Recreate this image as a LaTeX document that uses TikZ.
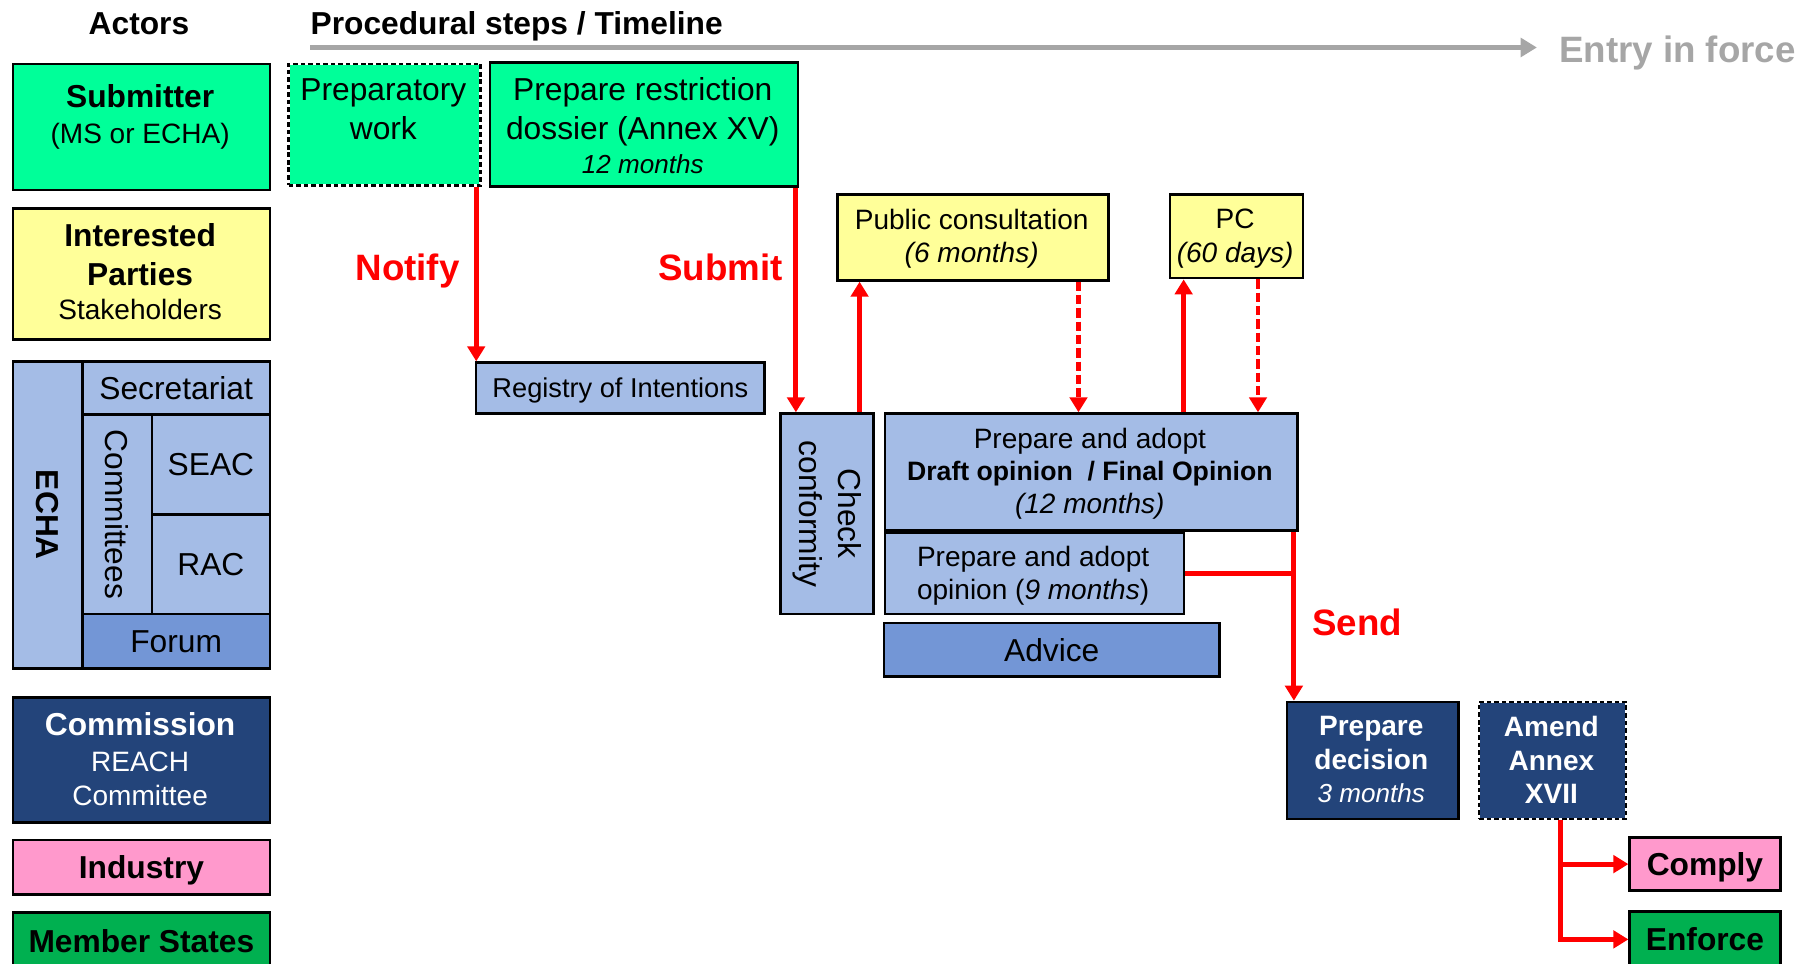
\documentclass[tikz,border=0pt]{standalone}
\usepackage{fontspec}
\setmainfont{Liberation Sans}
\usetikzlibrary{arrows.meta,calc}
\definecolor{sgreen}{HTML}{00FF99}
\definecolor{lyellow}{HTML}{FFFF99}
\definecolor{lblue}{HTML}{A4BCE6}
\definecolor{mblue}{HTML}{7396D6}
\definecolor{navy}{HTML}{23447A}
\definecolor{pinkc}{HTML}{FF99CC}
\definecolor{msgreen}{HTML}{00B050}
\definecolor{tlgray}{HTML}{A6A6A6}
\newcommand\szL{\fontsize{27.4}{33}\selectfont}
\newcommand\szM{\fontsize{24.2}{29}\selectfont}
\newcommand\szS{\fontsize{22.5}{27}\selectfont}
\newcommand\szX{\fontsize{31.7}{38}\selectfont}
\begin{document}
\begin{tikzpicture}[x=1pt,y=-1pt,
 bx/.style={draw=black, line width=2.2pt, inner sep=0pt, anchor=north west, align=center},
 dbx/.style={bx, draw=white, postaction={draw=black, line width=2.2pt, dash pattern=on 4pt off 2.5pt}},
 one/.style={text depth=0pt},
 txt/.style={inner sep=0pt, align=center},
 ra/.style={draw=red, line width=4.2pt, -{Triangle[length=13pt,width=15pt]}},
 rd/.style={ra, dash pattern=on 8pt off 3.5pt},
 rl/.style={draw=red, line width=4.2pt},
 lbl/.style={text=red, font=\szX\bfseries, inner sep=0pt},
]
\useasboundingbox (0,0) rectangle (1568,832);

% titles and timeline
\node[inner sep=0pt, anchor=base, font=\szL\bfseries] (tActors) at (120,29.8) {Actors};
\node[inner sep=0pt, anchor=base west, font=\szL\bfseries] (tSteps) at (268,29.8) {Procedural steps / Timeline};
\coordinate (tl0) at (268,41);
\node[inner sep=0pt, anchor=base west, font=\szX\bfseries, text=tlgray] (entry) at (1346,54.3) {Entry in force};
\draw[tlgray, line width=5pt, -{Triangle[length=14pt,width=16pt]}, shorten >=19pt] (tl0) -- (tl0 -| entry.west);

% actors column
\node[bx, fill=sgreen, minimum width=222pt, minimum height=109pt] (sub) at (10,54) {};
\node[txt, anchor=north, font=\szL] (subT) at (121,73.1) {\textbf{Submitter}\\[-2pt]{\szM (MS or ECHA)}};

\node[bx, fill=lyellow, minimum width=222pt, minimum height=113pt] (ip) at (10,179) {};
\node[txt, anchor=north, font=\szL] (ipT) at (121,193.1) {\textbf{Interested}\\\textbf{Parties}\\[-3pt]{\szM Stakeholders}};

\node[bx, fill=lblue, minimum width=60pt, minimum height=265pt] (echa) at (10,311) {};
\node[txt, rotate=-90, font=\szL\bfseries] (echaT) at (echa.center) {ECHA};
\node[bx, one, fill=lblue, minimum width=162pt, minimum height=46pt, font=\szL] (secr) at (70,311) {Secretariat};
\node[bx, fill=lblue, minimum width=60pt, minimum height=172pt] (comm) at (70,357) {};
\node[txt, rotate=-90, font=\szL] (commT) at (comm.center) {Committees};
\node[bx, one, fill=lblue, minimum width=102pt, minimum height=86pt, font=\szL] (seac) at (130,357) {SEAC};
\node[bx, one, fill=lblue, minimum width=102pt, minimum height=86pt, font=\szL] (rac) at (130,443) {RAC};
\node[bx, one, fill=mblue, minimum width=162pt, minimum height=47pt, font=\szL] (forum) at (70,529) {Forum};

\node[bx, fill=navy, minimum width=222pt, minimum height=108pt] (cmsn) at (10,601) {};
\node[txt, anchor=north, font=\szM, text=white] (cmsnT) at (121,615.1) {{\szL\bfseries Commission}\\[2pt]REACH\\Committee};

\node[bx, one, fill=pinkc, minimum width=222pt, minimum height=47pt, font=\szL\bfseries] (ind) at (10,724) {Industry};
\node[bx, one, fill=msgreen, minimum width=222pt, minimum height=48pt, font=\szL\bfseries] (ms) at (10,787) {Member States};

% procedure boxes
\node[dbx, fill=sgreen, minimum width=166pt, minimum height=105pt] (prep) at (248,54) {};
\node[txt, anchor=north, font=\szL] (prepT) at (331,68.1) {Preparatory\\work};

\node[bx, fill=sgreen, minimum width=266pt, minimum height=107pt] (dos) at (422,53) {};
\node[txt, anchor=north, font=\szL] (dosT) at (555,67.1) {Prepare restriction\\dossier (Annex XV)\\[-3pt]{\szS\itshape 12 months}};

\node[bx, one, fill=lblue, minimum width=249pt, minimum height=44pt, font=\fontsize{23.5}{28}\selectfont] (reg) at (410,312) {Registry of Intentions};

\node[bx, fill=lblue, minimum width=80pt, minimum height=173pt] (chk) at (673,356) {};
\node[txt, rotate=-90, font=\fontsize{27.4}{34}\selectfont] (chkT) at (chk.center) {Check\\conformity};

\node[bx, fill=lyellow, minimum width=234pt, minimum height=74pt] (pubc) at (722,167) {};
\node[txt, anchor=north, font=\szM] (pubcT) at (839,180.3) {Public consultation\\\textit{(6 months)}};

\node[bx, fill=lyellow, minimum width=115pt, minimum height=72pt] (pc) at (1009,167) {};
\node[txt, anchor=north, font=\szM] (pcT) at (1066.5,180.3) {PC\\\textit{(60 days)}};

\node[bx, fill=lblue, minimum width=356pt, minimum height=101pt] (draft) at (763,356) {};
\node[txt, anchor=north, font=\fontsize{24.2}{28}\selectfont] (draftT) at (941,369.3) {Prepare and adopt\\{\fontsize{23}{28}\selectfont\bfseries Draft opinion\ \ / Final Opinion}\\\textit{(12 months)}};

\node[bx, fill=lblue, minimum width=258pt, minimum height=70pt] (op9) at (763,459) {};
\node[txt, anchor=north, font=\szM] (op9T) at (892,471.3) {Prepare and adopt\\opinion (\textit{9 months})};

\node[bx, one, fill=mblue, minimum width=290pt, minimum height=46pt, font=\szL] (adv) at (762,537) {Advice};

\node[bx, fill=navy, minimum width=148pt, minimum height=101pt] (dec) at (1110,605) {};
\node[txt, anchor=north, font=\szM, text=white] (decT) at (1184,618.3) {\textbf{Prepare}\\\textbf{decision}\\{\szS\itshape 3 months}};

\node[dbx, fill=navy, minimum width=127pt, minimum height=101pt] (amd) at (1276,605) {};
\node[txt, anchor=north, font=\szM\bfseries, text=white] (amdT) at (1339.5,618.3) {Amend\\Annex\\XVII};

\node[bx, one, fill=pinkc, minimum width=130pt, minimum height=46pt, font=\szL\bfseries] (cmp) at (1406,722) {Comply};
\node[bx, one, fill=msgreen, minimum width=130pt, minimum height=48pt, font=\szL\bfseries] (enf) at (1406,786) {Enforce};

% connectors
\coordinate (nx) at ([xshift=-5pt]prep.south east);
\draw[ra] (nx) -- (nx |- reg.north);
\coordinate (sx) at ([xshift=-3pt]dos.south east);
\draw[ra] (sx) -- (sx |- chk.north);
\coordinate (cx) at ([xshift=-13pt]chk.north east);
\draw[ra] (cx) -- (cx |- pubc.south);
\coordinate (px) at ([xshift=-27pt]pubc.south east);
\draw[rd] (px) -- (px |- draft.north);
\coordinate (qx) at ([xshift=13pt]pc.south west);
\draw[ra] (qx |- draft.north) -- (qx);
\coordinate (rx) at ([xshift=-40pt]pc.south east);
\draw[rd] (rx) -- (rx |- draft.north);
\coordinate (sendx) at ([xshift=-4pt]draft.south east);
\draw[ra] (sendx) -- (sendx |- dec.north);
\draw[rl] (op9.east) -- (op9.east -| sendx);
\coordinate (ax) at ([xshift=6.5pt]amd.south);
\draw[ra] (ax) |- (enf.west);
\draw[ra] (ax |- cmp.west) -- (cmp.west);

% connector labels
\node[lbl, anchor=base east] (notify) at (397,242.3) {Notify};
\node[lbl, anchor=base east] (submit) at (676,242.3) {Submit};
\node[lbl, anchor=base west] (send) at (1133,548.3) {Send};
\end{tikzpicture}
\end{document}
